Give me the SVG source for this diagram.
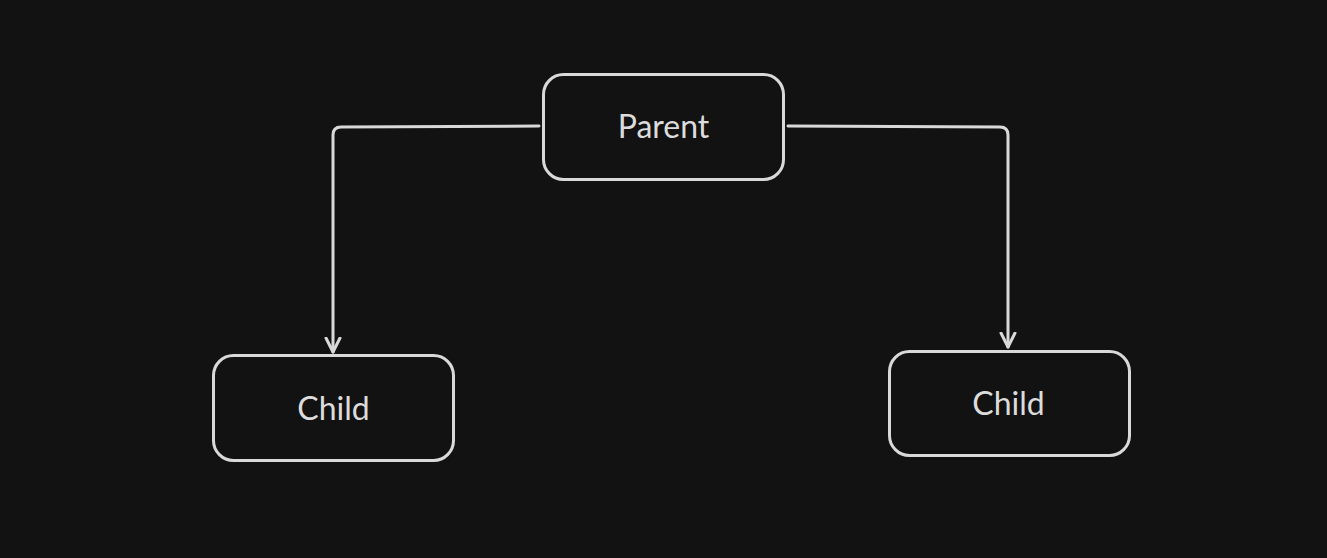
<svg xmlns="http://www.w3.org/2000/svg" width="1327" height="558" viewBox="0 0 1327 558">
<defs>
<style>
.box{fill:#121212;stroke:#d9d9d9;stroke-width:3}
.lbl{fill:#dcdcdc;font-family:Lato,"Noto Sans",sans-serif;font-size:32px;text-anchor:middle;dominant-baseline:central}
.edge{fill:none;stroke:#d9d9d9;stroke-width:3;stroke-linecap:round;stroke-linejoin:round}
</style>
<marker id="arr" markerWidth="30" markerHeight="30" refX="0" refY="0" viewBox="-15 -15 30 30" orient="auto" markerUnits="userSpaceOnUse">
<path d="M-14,-7 L0,0 L-14,7" fill="none" stroke="#d9d9d9" stroke-width="3" stroke-linecap="round" stroke-linejoin="round"/>
</marker>
</defs>
<rect width="1327" height="558" fill="#121212"/>
<g id="connectors">
<path class="edge" d="M539,126 L341,127 Q333,127 333,135 L333,352" marker-end="url(#arr)"/>
<path class="edge" d="M788,126 L1000,127 Q1008,127 1008,135 L1008,347" marker-end="url(#arr)"/>
</g>
<g id="parent">
<rect class="box" x="543.5" y="74.5" width="240" height="105" rx="20"/>
<text class="lbl" x="663.5" y="125">Parent</text>
</g>
<g id="child-left">
<rect class="box" x="213.5" y="355.5" width="240" height="105" rx="20"/>
<text class="lbl" x="333.5" y="407">Child</text>
</g>
<g id="child-right">
<rect class="box" x="889.5" y="351.5" width="240" height="104" rx="20"/>
<text class="lbl" x="1008.5" y="402">Child</text>
</g>
</svg>
